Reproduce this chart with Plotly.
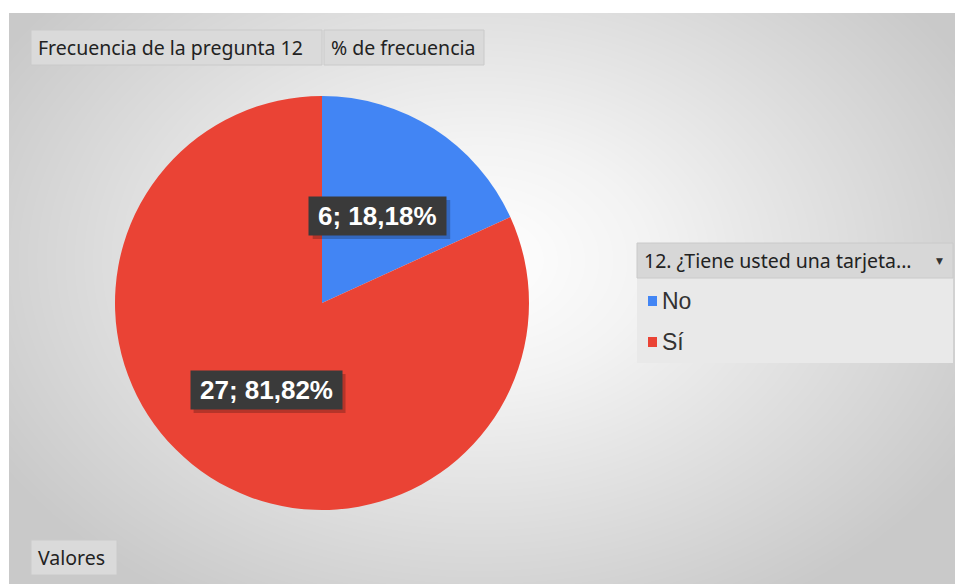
import numpy as np
import plotly.graph_objects as go

# ---- data ----
categories = ["No", "Sí"]
values = [6, 27]
colors = ["#4285F4", "#EA4335"]
pct_labels = ["18,18%", "81,82%"]
field_buttons = ["Frecuencia de la pregunta 12", "% de frecuencia"]
legend_title = "12. ¿Tiene usted una tarjeta..."
values_button = "Valores"

W, H = 957, 584
def px(x):
    return x / W
def py(y):
    return 1 - y / H

fig = go.Figure()

# ---- background radial gradient (decoration) ----
gx = np.linspace(9, 955, 120)
gy = np.linspace(13, H, 80)
XX, YY = np.meshgrid(gx, gy)
cx, cy = 480, 260
d = np.sqrt(((XX - cx) / 560) ** 2 + ((YY - cy) / 400) ** 2)
z = np.clip(d, 0, 1)
fig.add_trace(go.Heatmap(
    x=gx, y=gy, z=z, zsmooth="best", showscale=False, hoverinfo="skip",
    colorscale=[[0, "#ffffff"], [0.3, "#f3f3f3"], [1, "#c9c9c9"]],
    zmin=0, zmax=1, xaxis="x", yaxis="y"))

# ---- pie ----
ccx, ccy, R = 322, 303, 207
fig.add_trace(go.Pie(
    values=values, labels=categories, sort=False, direction="clockwise",
    rotation=0, marker=dict(colors=colors, line=dict(width=0)),
    textinfo="none", showlegend=False, hoverinfo="label+value+percent",
    domain=dict(x=[px(ccx - R), px(ccx + R)], y=[py(ccy + R), py(ccy - R)])))

fig.update_layout(
    width=W, height=H, margin=dict(l=0, r=0, t=0, b=0),
    paper_bgcolor="white", plot_bgcolor="white",
    xaxis=dict(domain=[px(9), px(955)], range=[9, 955], visible=False, fixedrange=True),
    yaxis=dict(domain=[0, py(13)], range=[H, 13], visible=False, fixedrange=True),
)

shapes = []
annotations = []

# approximate Arial bold advance widths (em)
AW = {c: 0.556 for c in "0123456789"}
AW.update({";": 0.333, " ": 0.278, ",": 0.278, "%": 0.889})
def text_w(s, size):
    return sum(AW.get(c, 0.6) for c in s) * size

# ---- data labels computed from pie geometry ----
LFS = 26
total = sum(values)
start = 0.0
for v, pl in zip(values, pct_labels):
    frac = v / total
    mid = (start + frac / 2) * 2 * np.pi
    start += frac
    lx = ccx + 0.5 * R * np.sin(mid)
    ly = ccy - 0.5 * R * np.cos(mid)
    txt = f"{v}; {pl}"
    bw = text_w(txt, LFS) + 12
    bh = 32
    pad = 3
    # shadow
    shapes.append(dict(type="rect", xref="paper", yref="paper",
                       x0=px(lx - bw / 2 - pad + 3), x1=px(lx + bw / 2 + pad + 4),
                       y0=py(ly + bh / 2 + pad + 4), y1=py(ly - bh / 2 - pad + 3),
                       fillcolor="rgba(0,0,0,0.22)", line=dict(width=0), layer="above"))
    annotations.append(dict(
        x=px(lx), y=py(ly), xref="paper", yref="paper",
        xanchor="center", yanchor="middle",
        text=f"<b>{txt}</b>", showarrow=False, width=bw, height=bh,
        font=dict(family="Liberation Sans, Arial", size=LFS, color="white"),
        bgcolor="#3a3a3a", borderpad=pad))

# ---- field buttons ----
def button(x0, x1, y0, y1, text, size=19.5, fill="#dadada"):
    shapes.append(dict(type="rect", xref="paper", yref="paper",
                       x0=px(x0), x1=px(x1), y0=py(y1), y1=py(y0),
                       fillcolor=fill, line=dict(color="#cacaca", width=1), layer="above"))
    annotations.append(dict(x=px(x0 + 5), y=py((y0 + y1) / 2), xref="paper", yref="paper",
                            xanchor="left", yanchor="middle", text=text, showarrow=False,
                            font=dict(family="Noto Sans", size=size, color="#222222")))

button(31, 322, 30, 65, field_buttons[0])
button(324, 484, 30, 65, field_buttons[1])
button(31, 117, 540, 575, values_button)

# ---- legend box ----
shapes.append(dict(type="rect", xref="paper", yref="paper",
                   x0=px(637), x1=px(953), y0=py(363), y1=py(278),
                   fillcolor="#e9e9e9", line=dict(width=0), layer="above"))
button(637, 953, 243, 278, legend_title, size=19.5, fill="#d7d7d7")
annotations.append(dict(x=px(939), y=py(261), xref="paper", yref="paper",
                        xanchor="center", yanchor="middle",
                        text="▼", showarrow=False,
                        font=dict(family="DejaVu Sans", size=9, color="#333")))
for i, (cat, col) in enumerate(zip(categories, colors)):
    yc = 301 + i * 41
    shapes.append(dict(type="rect", xref="paper", yref="paper",
                       x0=px(648), x1=px(657), y0=py(yc + 5), y1=py(yc - 5),
                       fillcolor=col, line=dict(width=0), layer="above"))
    annotations.append(dict(x=px(660), y=py(yc), xref="paper", yref="paper",
                            xanchor="left", yanchor="middle", text=cat, showarrow=False,
                            font=dict(family="Liberation Sans, Arial", size=23, color="#333")))

fig.update_layout(shapes=shapes, annotations=annotations)
fig.write_html("out.html", config={"displayModeBar": False},
               post_script="document.body.style.margin='0';")
